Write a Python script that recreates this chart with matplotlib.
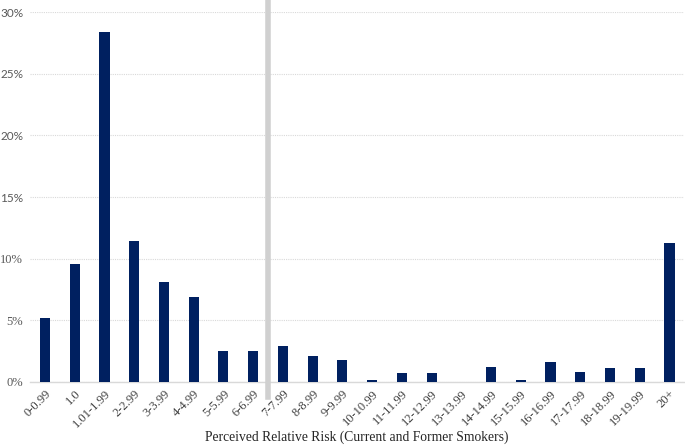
import numpy as np
import matplotlib.pyplot as plt
from matplotlib.ticker import FuncFormatter

# categories of perceived relative risk
categories = ["0-0.99", "1.0", "1.01-1.99", "2-2.99", "3-3.99", "4-4.99",
              "5-5.99", "6-6.99", "7-7.99", "8-8.99", "9-9.99", "10-10.99",
              "11-11.99", "12-12.99", "13-13.99", "14-14.99", "15-15.99",
              "16-16.99", "17-17.99", "18-18.99", "19-19.99", "20+"]

# percent of respondents
percent = [5.2, 9.6, 28.4, 11.4, 8.1, 6.9, 2.5, 2.5, 2.9, 2.1, 1.8, 0.2,
           0.7, 0.7, 0.0, 1.2, 0.2, 1.6, 0.8, 1.1, 1.1, 11.3]

y_ticks = [0, 5, 10, 15, 20, 25, 30]

# gray divider sits between 6-6.99 and 7-7.99
divider_pos = 7.5

fig = plt.figure(figsize=(6.85, 4.45), dpi=100)
ax = fig.add_axes([0.044, 0.1416, 0.955, 0.8314])

x = np.arange(len(categories))
ax.bar(x, percent, width=0.34, color="#002060", zorder=3)

ax.set_xlim(-0.5, len(categories) - 0.5)
ax.set_ylim(0, 30)
ax.set_yticks(y_ticks)
ax.yaxis.set_major_formatter(FuncFormatter(lambda v, p: f"{v:.0f}%"))
ax.grid(axis="y", color="#d9d9d9", linestyle=(0, (1, 1)), linewidth=0.8, zorder=0)

for s in ["top", "right", "left"]:
    ax.spines[s].set_visible(False)
ax.spines["bottom"].set_color("#d9d9d9")
ax.spines["bottom"].set_linewidth(1.0)

ax.set_xticks(x)
ax.set_xticklabels(categories, rotation=45, ha="right", rotation_mode="anchor",
                   family="Liberation Serif", fontsize=9, color="#404040")
ax.tick_params(axis="x", length=0, pad=4)
ax.tick_params(axis="y", length=0, pad=5, labelsize=8.5, labelcolor="#595959")
# lower labels look serif in the original, upper ones sans
for lab, v in zip(ax.get_yticklabels(), y_ticks):
    if v <= 10:
        lab.set_family("Liberation Serif")
        lab.set_fontsize(9)
    else:
        lab.set_family("Lato")

# vertical gray divider line
ax.axvline(divider_pos, ymin=-0.04, ymax=1.04, color="#d0d0d0", linewidth=4,
           clip_on=False, zorder=4)

ax.set_xlabel("Perceived Relative Risk (Current and Former Smokers)",
              family="Liberation Serif", fontsize=9.8, color="#262626", va="center")
ax.xaxis.set_label_coords(0.5, -0.149)

plt.savefig("out.png", dpi=100)
